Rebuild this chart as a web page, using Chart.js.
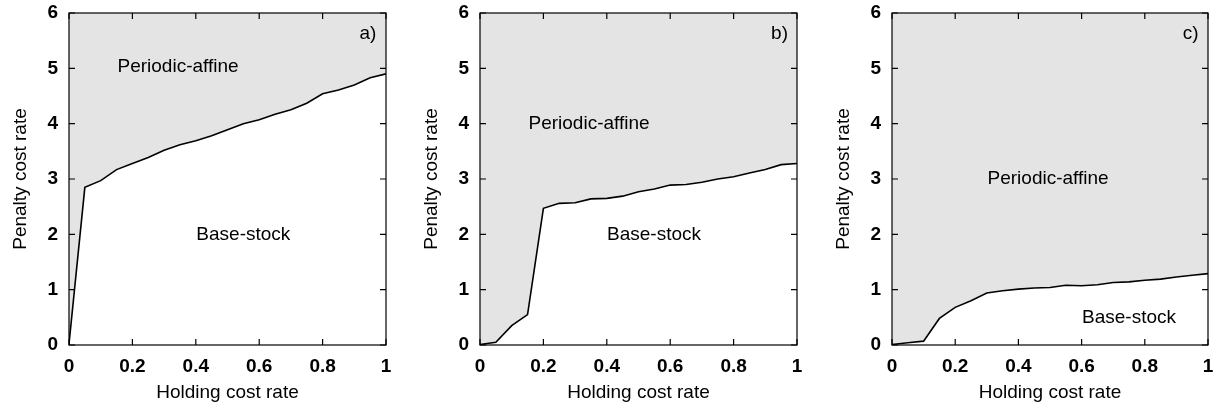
<!DOCTYPE html>
<html>
<head>
<meta charset="utf-8">
<script src="https://cdn.jsdelivr.net/npm/chart.js@4.4.1/dist/chart.umd.min.js"></script>
<style>
  html, body { margin: 0; padding: 0; background: #fff; }
  #wrap { position: relative; width: 1215px; height: 408px; }
  canvas { position: absolute; top: 0; }
</style>
</head>
<body>
<div id="wrap">
  <canvas id="chartA" width="405" height="408" style="left:0px"></canvas>
  <canvas id="chartB" width="405" height="408" style="left:411px"></canvas>
  <canvas id="chartC" width="392" height="408" style="left:823px"></canvas>
</div>
<script>
/* ---- data ---- */
const holdingRate = [0, 0.05, 0.1, 0.15, 0.2, 0.25, 0.3, 0.35, 0.4, 0.45, 0.5,
                     0.55, 0.6, 0.65, 0.7, 0.75, 0.8, 0.85, 0.9, 0.95, 1];
const penaltyA = [0.02, 2.85, 2.97, 3.17, 3.28, 3.39, 3.52, 3.62, 3.69, 3.78, 3.89,
                  4.0, 4.07, 4.17, 4.25, 4.37, 4.54, 4.61, 4.70, 4.83, 4.90];
const penaltyB = [0.01, 0.05, 0.35, 0.55, 2.47, 2.56, 2.57, 2.64, 2.65, 2.69, 2.77,
                  2.82, 2.89, 2.90, 2.94, 3.00, 3.04, 3.11, 3.17, 3.26, 3.28];
const penaltyC = [0.01, 0.04, 0.07, 0.48, 0.68, 0.80, 0.94, 0.98, 1.01, 1.03, 1.04,
                  1.08, 1.07, 1.09, 1.13, 1.14, 1.17, 1.19, 1.23, 1.26, 1.29];

const xTicks = [0, 0.2, 0.4, 0.6, 0.8, 1];
const yTicks = [0, 1, 2, 3, 4, 5, 6];

// region labels, in data coordinates
const labelsA = [['Periodic-affine', 0.344, 5.02], ['Base-stock', 0.55, 1.99], ['a)', 0.943, 5.63]];
const labelsB = [['Periodic-affine', 0.344, 3.99], ['Base-stock', 0.549, 1.99], ['b)', 0.945, 5.63]];
const labelsC = [['Periodic-affine', 0.494, 3.0], ['Base-stock', 0.75, 0.5], ['c)', 0.945, 5.63]];

const FONT = "'Liberation Sans', Arial, Helvetica, sans-serif";

// box, inward ticks on all four sides, and the in-plot labels
const framePlugin = {
  id: 'frame',
  afterDatasetsDraw(chart) {
    const { ctx, chartArea: a, scales: { x, y } } = chart;
    const tl = 6;
    ctx.save();
    ctx.strokeStyle = '#000';
    ctx.lineWidth = 1.2;
    ctx.strokeRect(a.left, a.top, a.right - a.left, a.bottom - a.top);
    ctx.beginPath();
    xTicks.forEach(v => {
      const px = x.getPixelForValue(v);
      ctx.moveTo(px, a.bottom); ctx.lineTo(px, a.bottom - tl);
      ctx.moveTo(px, a.top); ctx.lineTo(px, a.top + tl);
    });
    yTicks.forEach(v => {
      const py = y.getPixelForValue(v);
      ctx.moveTo(a.left, py); ctx.lineTo(a.left + tl, py);
      ctx.moveTo(a.right, py); ctx.lineTo(a.right - tl, py);
    });
    ctx.stroke();

    ctx.fillStyle = '#000';
    ctx.font = '19px ' + FONT;
    ctx.textAlign = 'center';
    ctx.textBaseline = 'middle';
    (chart.options.plugins.frame.labels || []).forEach(([t, lx, ly]) => {
      ctx.fillText(t, x.getPixelForValue(lx), y.getPixelForValue(ly));
    });
    ctx.restore();
  }
};

function makePanel(id, values, labels, padRight) {
  const ctx = document.getElementById(id);
  return new Chart(ctx, {
    type: 'line',
    data: {
      datasets: [{
        data: holdingRate.map((h, i) => ({ x: h, y: values[i] })),
        borderColor: '#000',
        borderWidth: 1.6,
        backgroundColor: '#e4e4e4',
        fill: 'end',
        pointRadius: 0,
        tension: 0,
      }]
    },
    options: {
      responsive: false,
      animation: false,
      layout: { padding: { top: 13, right: padRight, left: 0, bottom: 0 } },
      plugins: {
        legend: { display: false },
        tooltip: { enabled: false },
        frame: { labels },
      },
      scales: {
        x: {
          type: 'linear',
          min: 0, max: 1,
          afterFit: s => { s.height = 63; s.paddingLeft = 0; s.paddingRight = 0; },
          afterBuildTicks: s => { s.ticks = xTicks.map(v => ({ value: v })); },
          grid: { display: false, drawTicks: false },
          border: { display: false },
          ticks: {
            color: '#000', padding: 10,
            font: { family: FONT, size: 19, weight: 'bold' },
            callback: v => String(+v.toFixed(1))
          },
          title: {
            display: true, text: 'Holding cost rate', color: '#000',
            font: { family: FONT, size: 19 }, padding: { top: 0, bottom: 4 }
          }
        },
        y: {
          min: 0, max: 6,
          afterFit: s => { s.width = 69; s.paddingTop = 0; s.paddingBottom = 0; },
          afterBuildTicks: s => { s.ticks = yTicks.map(v => ({ value: v })); },
          grid: { display: false, drawTicks: false },
          border: { display: false },
          ticks: { color: '#000', padding: 11, font: { family: FONT, size: 19, weight: 'bold' } },
          title: {
            display: true, text: 'Penalty cost rate', color: '#000',
            font: { family: FONT, size: 19 }, padding: { top: 9, bottom: 0 }
          }
        }
      }
    },
    plugins: [framePlugin]
  });
}

makePanel('chartA', penaltyA, labelsA, 19);
makePanel('chartB', penaltyB, labelsB, 19);
makePanel('chartC', penaltyC, labelsC, 7);
</script>
</body>
</html>
